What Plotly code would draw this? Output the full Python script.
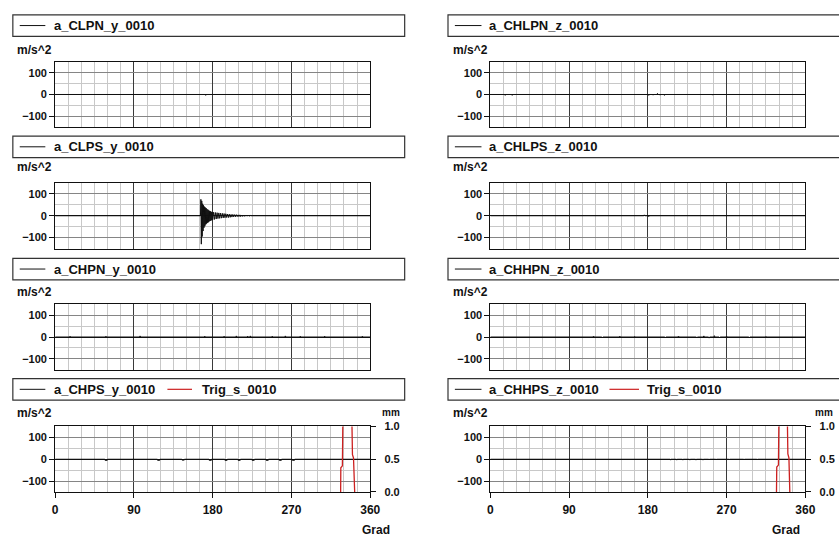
import plotly.graph_objects as go

W, H = 839, 542

# ---------------- data ----------------
legend_names = ["a_CLPN_y_0010", "a_CHLPN_z_0010",
                "a_CLPS_y_0010", "a_CHLPS_z_0010",
                "a_CHPN_y_0010", "a_CHHPN_z_0010",
                "a_CHPS_y_0010", "a_CHHPS_z_0010"]
trig_name = "Trig_s_0010"
y_unit = "m/s^2"
y2_unit = "mm"
x_title = "Grad"
x_ticks = [0, 90, 180, 270, 360]
y_ticks = [-100, 0, 100]
y2_ticks = [0.0, 0.5, 1.0]
y2_ticklabels = ["0.0", "0.5", "1.0"]

x_clpn_y = [0, 171.4, 172, 172.6, 360]
y_clpn_y = [0, 0, -4, 0, 0]

x_chlpn_z = [0, 16.4, 17, 17.6, 24.4, 25, 25.6, 180.4, 181, 181.6, 185.4, 186, 186.6,
             190.4, 191, 191.6, 193.4, 194, 194.6, 198.4, 199, 199.6, 253.4, 254, 254.6, 360]
y_chlpn_z = [0, 0, -4, 0, 0, -4, 0, 0, -4, 0, 0, -3, 0,
             0, 5, 0, 0, -3, 0, 0, -4, 0, 0, -3, 0, 0]

x_clps_y = [0, 166.0, 166.5, 167.0, 167.5, 168.0, 168.5, 169.0, 169.5, 170.0, 170.5,
            171.0, 171.5, 172.0, 172.5, 173.0, 173.5, 174.0, 174.5, 175.0, 175.5,
            176.0, 176.5, 177.0, 177.5, 178.0, 178.5, 179.0, 179.5, 180.0,
            181, 182, 183, 184, 185, 186, 187, 188, 189, 190,
            191, 192, 193, 194, 195, 196, 197, 198, 199, 200,
            201, 202, 203, 204, 205, 206, 207, 208, 209, 210, 211, 212,
            213, 214, 215, 216, 217, 218, 219, 220, 221, 222, 223, 224, 360]
y_clps_y = [0, 0, 75, -130, 68, -95, 55, -70, 48, -55, 42,
            -48, 38, -40, 35, -36, 30, -32, 28, -30, 25,
            -26, 22, -24, 20, -22, 18, -20, 17, -18,
            16, -17, 15, -15, 14, -13, 13, -12, 12, -11,
            11, -10, 10, -9, 9, -8, 8, -8, 7, -7,
            6, -6, 6, -5, 5, -5, 5, -4, 4, -4, 4, -4,
            3, -3, 3, -3, 3, -2, 2, -2, 2, -2, 1, 0, 0]

x_chlps_z = [0, 169.4, 170, 170.6, 175.4, 176, 176.6, 180.4, 181, 181.6, 187.4, 188, 188.6, 360]
y_chlps_z = [0, 0, -3, 0, 0, 4, 0, 0, -4, 0, 0, -3, 0, 0]

x_chpn_y = [0, 16.4, 17, 17.6, 57.4, 58, 58.6, 96.4, 97, 97.6, 170.4, 171, 171.6,
            192.4, 193, 193.6, 206.4, 207, 207.6, 219.4, 220, 220.6, 222.4, 223, 223.6,
            247.4, 248, 248.6, 262.4, 263, 263.6, 279.4, 280, 280.6, 307.4, 308, 308.6,
            350.4, 351, 351.6, 360]
y_chpn_y = [0, 0, 4, 0, 0, 4, 0, 0, 5, 0, 0, 4, 0,
            0, 4, 0, 0, 5, 0, 0, 4, 0, 0, 5, 0,
            0, 4, 0, 0, 5, 0, 0, 4, 0, 0, 4, 0,
            0, 4, 0, 0]

x_chhpn_z = [0, 106.4, 107, 107.6, 117.4, 118, 118.6, 127.4, 128, 128.6, 136.4, 137, 137.6,
             147.4, 148, 148.6, 164.4, 165, 165.6, 184.4, 185, 185.6, 199.4, 200, 200.6,
             214.4, 215, 215.6, 227.4, 228, 228.6, 235.4, 236, 236.6, 243.4, 244, 244.6,
             249.4, 250, 250.6, 255.4, 256, 256.6, 261.4, 262, 262.6, 269.4, 270, 270.6,
             279.4, 280, 280.6, 295.4, 296, 296.6, 314.4, 315, 315.6, 342.4, 343, 343.6, 360]
y_chhpn_z = [0, 0, 3, 0, 0, 4, 0, 0, -4, 0, 0, 3, 0,
             0, 4, 0, 0, 3, 0, 0, 3, 0, 0, -3, 0,
             0, 4, 0, 0, 3, 0, 0, -4, 0, 0, 5, 0,
             0, -5, 0, 0, 6, 0, 0, -4, 0, 0, 4, 0,
             0, 3, 0, 0, -3, 0, 0, 3, 0, 0, 3, 0, 0]

x_chps_y = [0, 56.8, 57, 59.5, 59.7, 116.8, 117, 119.5, 119.7, 144.8, 145, 147.5, 147.7,
            175.8, 176, 178.5, 178.7, 193.8, 194, 196.5, 196.7, 208.8, 209, 211.5, 211.7,
            224.8, 225, 227.5, 227.7, 240.8, 241, 243.5, 243.7, 255.8, 256, 258.5, 258.7,
            270.8, 271, 273.5, 273.7, 360]
y_chps_y = [0, 0, -5, -5, 0, 0, -5, -5, 0, 0, -4, -4, 0,
            0, -5, -5, 0, 0, -5, -5, 0, 0, -5, -5, 0,
            0, -5, -5, 0, 0, -5, -5, 0, 0, -5, -5, 0,
            0, -5, -5, 0, 0]

x_chhps_z = [0, 3.6, 4, 4.4, 9.6, 10, 10.4, 16.6, 17, 17.4, 23.6, 24, 24.4, 29.6, 30, 30.4,
             36.6, 37, 37.4, 55.6, 56, 56.4, 101.6, 102, 102.4, 121.6, 122, 122.4,
             127.6, 128, 128.4, 133.6, 134, 134.4, 165.6, 166, 166.4, 179.6, 180, 180.4,
             195.6, 196, 196.4, 205.6, 206, 206.4, 212.6, 213, 213.4, 219.6, 220, 220.4,
             227.6, 228, 228.4, 234.6, 235, 235.4, 242.6, 243, 243.4, 249.6, 250, 250.4,
             257.6, 258, 258.4, 272.6, 273, 273.4, 289.6, 290, 290.4, 304.6, 305, 305.4, 360]
y_chhps_z = [0, 0, -3, 0, 0, -3, 0, 0, -3, 0, 0, -3, 0, 0, -3, 0,
             0, -3, 0, 0, -3, 0, 0, -3, 0, 0, -3, 0,
             0, -3, 0, 0, -3, 0, 0, -3, 0, 0, -3, 0,
             0, -3, 0, 0, -4, 0, 0, -4, 0, 0, -4, 0,
             0, -4, 0, 0, -4, 0, 0, -4, 0, 0, -3, 0,
             0, -3, 0, 0, -3, 0, 0, -3, 0, 0, -3, 0, 0]

x_trig_left = [0, 326.0, 326.2, 326.4, 328.2, 328.6, 328.9, 338.8, 339.2, 339.7,
               340.9, 341.3, 342.2, 342.6, 360]
y_trig_left = [-0.3, -0.3, 0.0, 0.37, 0.40, 1.0, 1.3, 1.3, 1.0, 0.57,
               0.52, 0.12, 0.02, -0.3, -0.3]
x_trig_right = [0, 326.8, 327.0, 327.3, 329.2, 329.6, 329.9, 339.2, 339.6, 340.0,
                341.2, 341.6, 342.4, 342.8, 360]
y_trig_right = [-0.3, -0.3, 0.0, 0.38, 0.41, 1.0, 1.3, 1.3, 1.0, 0.58,
                0.52, 0.12, 0.02, -0.3, -0.3]

series_x = [x_clpn_y, x_chlpn_z, x_clps_y, x_chlps_z, x_chpn_y, x_chhpn_z, x_chps_y, x_chhps_z]
series_y = [y_clpn_y, y_chlpn_z, y_clps_y, y_chlps_z, y_chpn_y, y_chhpn_z, y_chps_y, y_chhps_z]

# ---------------- layout geometry (pixels) ----------------
col_left = [53, 495]
plot_w = 320
row_top = [57, 181, 305, 430]
plot_h = 67
box_left = [10, 452]
box_right = [408, 860]
box_top = [9, 133, 258, 381]
box_h = 22
sample_x = [(17, 43), (459, 486)]
text_x = [50, 492]
sample2_x = [(167, 192), (616, 646)]
text2_x = [200, 652]
unit_x = [12, 455]
unit_y = [45, 165, 292, 416]
mm_x = [383, 823]
grad_x = [379, 795]
grad_y = 536

FONT = "Liberation Sans"
BLACK = "#111111"
RED = "#cc2020"


def fx(p):
    return p / W


def fy(p):
    return 1 - p / H


def bold(size):
    return dict(family=FONT, size=size, color=BLACK, weight="bold")


fig = go.Figure()
layout = dict(width=W, height=H, margin=dict(l=0, r=0, t=0, b=0),
              paper_bgcolor="white", plot_bgcolor="white", showlegend=False,
              font=bold(11))
shapes = []
annotations = []

for i in range(8):
    r, c = divmod(i, 2)
    k = i + 1
    xs = "" if k == 1 else str(k)
    last = (r == 3)
    fig.add_trace(go.Scatter(x=series_x[i], y=series_y[i], mode="lines",
                             line=dict(color=BLACK, width=1),
                             xaxis="x" + xs, yaxis="y" + xs, name=legend_names[i]))
    layout["xaxis" + xs] = dict(
        domain=[fx(col_left[c]), fx(col_left[c] + plot_w)], range=[0, 360],
        anchor="y" + xs, tickmode="array", tickvals=x_ticks,
        showgrid=True, gridcolor="#3a3a3a", gridwidth=1,
        minor=dict(dtick=15, tick0=0, showgrid=True, gridcolor="#c8c8c8", gridwidth=1, ticks=""),
        zeroline=False, showline=True, mirror=True, linecolor=BLACK, linewidth=1,
        showticklabels=last, ticks="outside" if last else "", ticklen=5, tickcolor=BLACK,
        ticklabelstandoff=2, tickfont=bold(12), fixedrange=True)
    layout["yaxis" + xs] = dict(
        domain=[fy(row_top[r] + plot_h), fy(row_top[r])], range=[-150, 150],
        anchor="x" + xs, tickmode="array", tickvals=y_ticks,
        showgrid=True, gridcolor="#858585", gridwidth=1,
        minor=dict(dtick=50, tick0=0, showgrid=True, gridcolor="#c8c8c8", gridwidth=1, ticks=""),
        zeroline=True, zerolinecolor=BLACK, zerolinewidth=1,
        showline=True, mirror=True, linecolor=BLACK, linewidth=1,
        ticks="outside", ticklen=5, tickcolor=BLACK,
        tickfont=bold(11), fixedrange=True)

    # legend box
    shapes.append(dict(type="rect", xref="paper", yref="paper",
                       x0=fx(box_left[c]), x1=fx(box_right[c]),
                       y0=fy(box_top[r] + box_h), y1=fy(box_top[r]),
                       line=dict(color="#333333", width=1.2), fillcolor="rgba(0,0,0,0)"))
    ym = fy(box_top[r] + box_h / 2)
    shapes.append(dict(type="line", xref="paper", yref="paper",
                       x0=fx(sample_x[c][0]), x1=fx(sample_x[c][1]), y0=ym, y1=ym,
                       line=dict(color=BLACK, width=1)))
    annotations.append(dict(text=legend_names[i], xref="paper", yref="paper",
                            x=fx(text_x[c]), y=ym, xanchor="left", yanchor="middle",
                            showarrow=False, font=bold(13)))
    annotations.append(dict(text=y_unit, xref="paper", yref="paper",
                            x=fx(unit_x[c]), y=fy(unit_y[r]), xanchor="left", yanchor="middle",
                            showarrow=False, font=bold(12)))
    if last:
        shapes.append(dict(type="line", xref="paper", yref="paper",
                           x0=fx(sample2_x[c][0]), x1=fx(sample2_x[c][1]), y0=ym, y1=ym,
                           line=dict(color=RED, width=1.2)))
        annotations.append(dict(text=trig_name, xref="paper", yref="paper",
                                x=fx(text2_x[c]), y=ym, xanchor="left", yanchor="middle",
                                showarrow=False, font=bold(13)))
        annotations.append(dict(text=y2_unit, xref="paper", yref="paper",
                                x=fx(mm_x[c]), y=fy(unit_y[r]),
                                xanchor="left", yanchor="middle", showarrow=False,
                                font=bold(10)))
        annotations.append(dict(text=x_title, xref="paper", yref="paper",
                                x=fx(grad_x[c]), y=fy(grad_y),
                                xanchor="center", yanchor="middle", showarrow=False,
                                font=bold(12)))

# secondary (right) axes for trigger signals
for c, (tx, ty) in enumerate([(x_trig_left, y_trig_left), (x_trig_right, y_trig_right)]):
    base = 7 + c
    k2 = 9 + c
    fig.add_trace(go.Scatter(x=tx, y=ty, mode="lines", line=dict(color=RED, width=1.3),
                             xaxis="x" + str(base), yaxis="y" + str(k2), name=trig_name))
    layout["yaxis" + str(k2)] = dict(
        overlaying="y" + str(base), side="right", anchor="x" + str(base),
        range=[0, 1], tickmode="array", tickvals=y2_ticks, ticktext=y2_ticklabels,
        showgrid=False, zeroline=False, showline=False,
        ticks="outside", ticklen=5, tickcolor=BLACK, ticklabelstandoff=6,
        tickfont=bold(11), fixedrange=True)

layout["shapes"] = shapes
layout["annotations"] = annotations
fig.update_layout(**layout)
fig.write_html("out.html", config={"displayModeBar": False},
               post_script="document.body.style.margin='0';document.body.style.overflow='hidden';")
